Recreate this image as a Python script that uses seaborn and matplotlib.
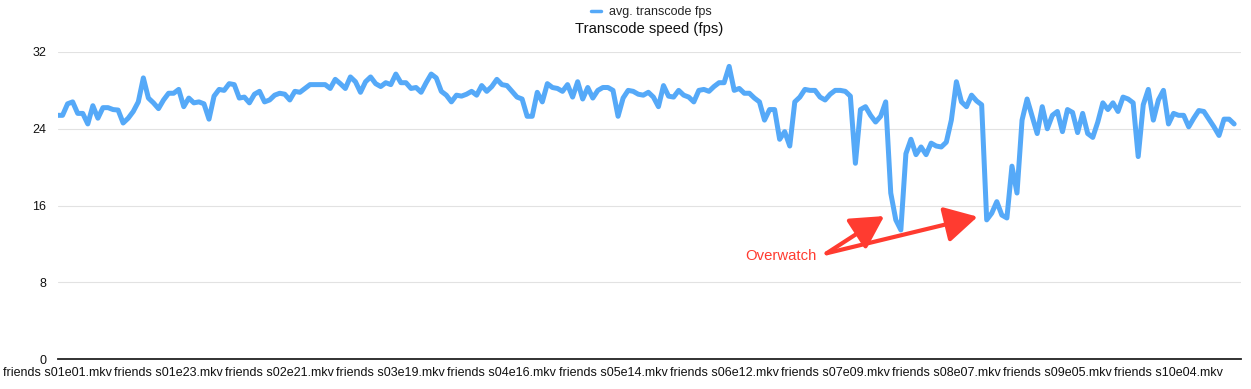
import numpy as np
import pandas as pd
import matplotlib
matplotlib.use("Agg")
import matplotlib.pyplot as plt
import seaborn as sns

# ---------------- data ----------------
SEASON_LENGTHS = [24, 24, 25, 24, 24, 25, 24, 24, 23, 17]

FPS = [
    25.4, 25.4, 26.6, 26.8, 25.6, 25.6, 24.5, 26.4, 25.1, 26.2,
    26.2, 26.0, 25.95, 24.6, 25.1, 25.8, 26.8, 29.3, 27.2, 26.7,
    26.1, 27.0, 27.7, 27.7, 28.1, 26.3, 27.2, 26.7, 26.8, 26.6,
    25.0, 27.4, 28.1, 28.0, 28.7, 28.6, 27.2, 27.3, 26.7, 27.6,
    27.9, 26.8, 27.0, 27.5, 27.7, 27.6, 27.0, 27.9, 27.8, 28.2,
    28.6, 28.6, 28.6, 28.6, 28.2, 29.15, 28.7, 28.2, 29.4, 28.9,
    27.8, 28.9, 29.4, 28.7, 28.4, 28.8, 28.6, 29.7, 28.8, 28.8,
    28.2, 28.3, 27.8, 28.8, 29.7, 29.3, 27.9, 27.5, 26.8, 27.5,
    27.4, 27.6, 27.9, 27.5, 28.5, 27.9, 28.4, 29.15, 28.6, 28.5,
    27.9, 27.3, 27.1, 25.3, 25.3, 27.8, 26.8, 28.7, 28.3, 28.2,
    27.9, 28.6, 27.3, 28.9, 27.1, 28.3, 27.2, 28.0, 28.3, 28.3,
    28.0, 25.3, 27.2, 28.0, 27.9, 27.6, 27.5, 27.8, 27.3, 26.3,
    28.5, 27.4, 27.3, 28.0, 27.5, 27.3, 26.8, 28.0, 28.1, 27.9,
    28.4, 28.8, 28.8, 30.5, 28.0, 28.2, 27.7, 27.7, 27.2, 26.8,
    24.9, 26.0, 26.0, 22.9, 23.7, 22.2, 26.8, 27.3, 28.1, 28.0,
    28.0, 27.3, 27.0, 27.6, 28.0, 28.0, 27.9, 27.4, 20.4, 26.0,
    26.3, 25.4, 24.7, 25.3, 26.8, 17.3, 14.5, 13.45, 21.4, 22.9,
    21.3, 22.1, 21.3, 22.5, 22.2, 22.1, 22.6, 24.9, 28.9, 26.8,
    26.3, 27.5, 26.9, 26.5, 14.5, 15.2, 16.4, 15.0, 14.7, 20.1,
    17.3, 24.9, 27.1, 25.3, 23.5, 26.3, 24.0, 25.4, 25.8, 23.7,
    26.0, 25.7, 23.6, 25.6, 23.5, 23.1, 24.7, 26.7, 26.0, 26.7,
    25.8, 27.3, 27.1, 26.7, 21.1, 26.5, 28.1, 24.9, 27.0, 28.0,
    24.5, 25.6, 25.4, 25.4, 24.2, 25.1, 25.9, 25.8, 25.0, 24.2,
    23.3, 25.0, 25.0, 24.5,
]

Y_TICKS = [0, 8, 16, 24, 32]
TICK_EVERY = 22
TITLE = "Transcode speed (fps)"
SERIES_NAME = "avg. transcode fps"
ANNOTATION = "Overwatch"

EPISODES = [f"friends s{s:02d}e{e:02d}.mkv"
            for s, n in enumerate(SEASON_LENGTHS, start=1)
            for e in range(1, n + 1)]
assert len(EPISODES) == len(FPS)

# ---------------- style ----------------
BLUE = "#55A9F8"
RED = "#FF3B30"
W, H = 1251, 389

sns.set_theme(style="white")
plt.rcParams["font.family"] = ["Liberation Sans", "DejaVu Sans"]

fig = plt.figure(figsize=(W / 100, H / 100), dpi=100)
left, right, top, bottom = 57.5, 1241, 52, 359
ax = fig.add_axes([left / W, (H - bottom) / H, (right - left) / W, (bottom - top) / H])

df = pd.DataFrame({"pos": np.arange(len(FPS)), "fps": FPS, "episode": EPISODES})
sns.lineplot(data=df, x="pos", y="fps", ax=ax, color=BLUE, linewidth=3.6,
             label=SERIES_NAME, zorder=3)

n = len(FPS)
ax.set_xlim(0, (n - 1) + (right - (left + 5.05 * (n - 1))) / 5.05)
ax.set_ylim(0, 32)
ax.set_yticks(Y_TICKS)
ax.set_yticklabels([str(v) for v in Y_TICKS])
tick_pos = list(range(0, n, TICK_EVERY))
ax.set_xticks(tick_pos)
ax.set_xticklabels([EPISODES[i] for i in tick_pos])
ax.set_xlabel("")
ax.set_ylabel("")

ax.grid(axis="y", color="#E2E2E2", linewidth=0.8, zorder=0)
ax.grid(axis="x", visible=False)
for s in ["left", "right", "top"]:
    ax.spines[s].set_visible(False)
ax.spines["bottom"].set_color("#222222")
ax.spines["bottom"].set_linewidth(1.3)
ax.spines["bottom"].set_zorder(4)
ax.tick_params(axis="y", length=0, pad=8, labelsize=9, labelcolor="#111111")
ax.tick_params(axis="x", length=0, pad=6, labelsize=9, labelcolor="#111111")

ax.set_title(TITLE, fontsize=10.75, pad=13.5, color="#111111")

handles, labels = ax.get_legend_handles_labels()
ax.get_legend().remove()
leg = fig.legend(handles, labels, loc="center",
                 bbox_to_anchor=(651 / W, 1 - 12.5 / H), frameon=False,
                 fontsize=9, handlelength=0.8, handletextpad=0.65)
for h in leg.legend_handles:
    h.set_linewidth(2.5)

# annotation arrows
arrow_kw = dict(arrowstyle="-|>,head_length=1.0,head_width=0.55",
                mutation_scale=20, color=RED, lw=3, shrinkA=0, shrinkB=0)
ax.annotate("", xy=(163.7, 14.9), xytext=(152.3, 11.02), arrowprops=arrow_kw, zorder=5)
ax.annotate("", xy=(182.2, 14.83), xytext=(152.3, 11.02), arrowprops=arrow_kw, zorder=5)
ax.text(150.4, 10.75, ANNOTATION, ha="right", va="center", color=RED, fontsize=10.7)

fig.savefig("out.png", dpi=100)
